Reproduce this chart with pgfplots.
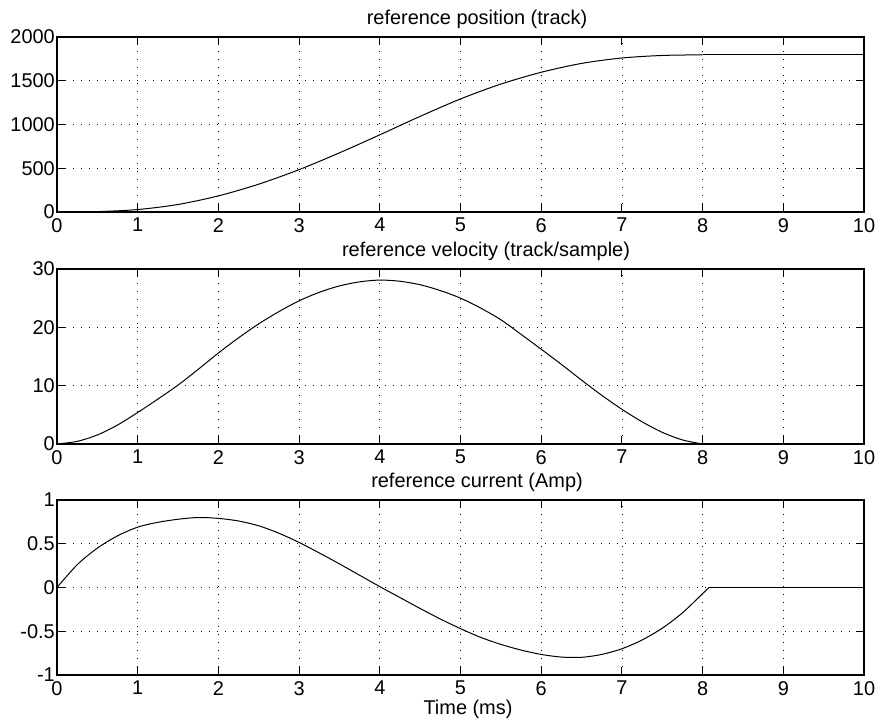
\documentclass[border=0pt]{standalone}
\usepackage{fontspec}
\setmainfont{Liberation Sans}
\usepackage{pgfplots}
\pgfplotsset{compat=1.18}
\usepackage{pgfplotstable}

% reference trajectory: position, velocity, current
\pgfplotstableread{
t    pos
0    0
0.5  4.5
1    28
1.5  86
2    184
2.5  318
3    484
3.5  676
4    882
4.5  1093
5    1292
5.5  1462
6    1597
6.5  1698
7    1760
7.5  1789
8    1796
}\posdata

\pgfplotstableread{
t    vel
0    0
0.25 0.45
0.5  1.55
0.75 3.25
1    5.4
1.25 7.7
1.5  10.1
1.75 12.8
2    15.6
2.25 18.2
2.5  20.6
2.75 22.7
3    24.55
3.25 26.0
3.5  27.1
3.75 27.8
4    28.1
4.25 27.9
4.5  27.3
4.75 26.3
5    25.0
5.25 23.3
5.5  21.3
5.75 18.8
6    16.25
6.25 13.65
6.5  10.95
6.75 8.35
7    5.95
7.25 3.8
7.5  2.0
7.75 0.7
8    0
}\veldata

\pgfplotstableread{
t    cur
0    0
0.25 0.26
0.5  0.45
0.75 0.59
1    0.69
1.25 0.745
1.5  0.78
1.75 0.80
2    0.79
2.25 0.76
2.5  0.705
2.75 0.62
3    0.515
3.25 0.395
3.5  0.27
3.75 0.14
4    0.01
4.25 -0.115
4.5  -0.24
4.75 -0.36
5    -0.47
5.25 -0.57
5.5  -0.65
5.75 -0.715
6    -0.765
6.25 -0.795
6.5  -0.798
6.75 -0.765
7    -0.70
7.25 -0.60
7.5  -0.465
7.75 -0.29
8    -0.07
8.08 0
}\curdata

\pgfplotsset{
  panel/.style={
    anchor=south west,
    scale only axis, width=807bp, height=175bp,
    xmin=0, xmax=10,
    xtick={0,1,2,3,4,5,6,7,8,9,10},
    xticklabels={0,1,2,3,4,5,6,7,8,9,10},
    tick align=inside,
    major tick length=8bp,
    grid=major,
    major grid style={black, line width=0.8bp, dash pattern=on 0.8bp off 7.2bp},
    axis line style={black, line width=1.1bp},
    every tick/.style={black, line width=1bp},
    tick label style={font=\fontsize{20}{24}\selectfont},
    xticklabel style={anchor=north, inner sep=0pt, yshift=-6bp},
    yticklabel style={anchor=east, inner sep=0pt, xshift=-2bp},
  },
  curve/.style={black, line width=1bp, smooth, tension=0.5},
  flat/.style={black, line width=1bp},
}

\begin{document}
\begin{tikzpicture}[font=\fontsize{20}{24}\selectfont]
\path[use as bounding box] (0bp,0bp) rectangle (880bp,724bp);

% position
\begin{axis}[panel, at={(57bp,512bp)},
  ymin=0, ymax=2000,
  ytick={0,500,1000,1500,2000},
  yticklabels={0,500,1000,1500,2000}]
  \addplot[curve] table[x=t, y=pos] {\posdata};
  \addplot[flat] coordinates {(8,1796) (10,1796)};
\end{axis}

% velocity
\begin{axis}[panel, at={(57bp,280bp)},
  ymin=0, ymax=30,
  ytick={0,10,20,30},
  yticklabels={0,10,20,30}]
  \addplot[curve] table[x=t, y=vel] {\veldata};
  \addplot[flat] coordinates {(8,0) (10,0)};
\end{axis}

% current
\begin{axis}[panel, at={(57bp,49bp)},
  ymin=-1, ymax=1,
  ytick={-1,-0.5,0,0.5,1},
  yticklabels={-1,-0.5,0,0.5,1}]
  \addplot[curve] table[x=t, y=cur] {\curdata};
  \addplot[flat] coordinates {(8.08,0) (10,0)};
\end{axis}

\node[anchor=base, inner sep=0pt] at (477bp,699bp) {reference position (track)};
\node[anchor=base, inner sep=0pt] at (486bp,467bp) {reference velocity (track/sample)};
\node[anchor=base, inner sep=0pt] at (477bp,236bp) {reference current (Amp)};
\node[anchor=base, inner sep=0pt] at (468bp,10bp) {Time (ms)};
\end{tikzpicture}
\end{document}
